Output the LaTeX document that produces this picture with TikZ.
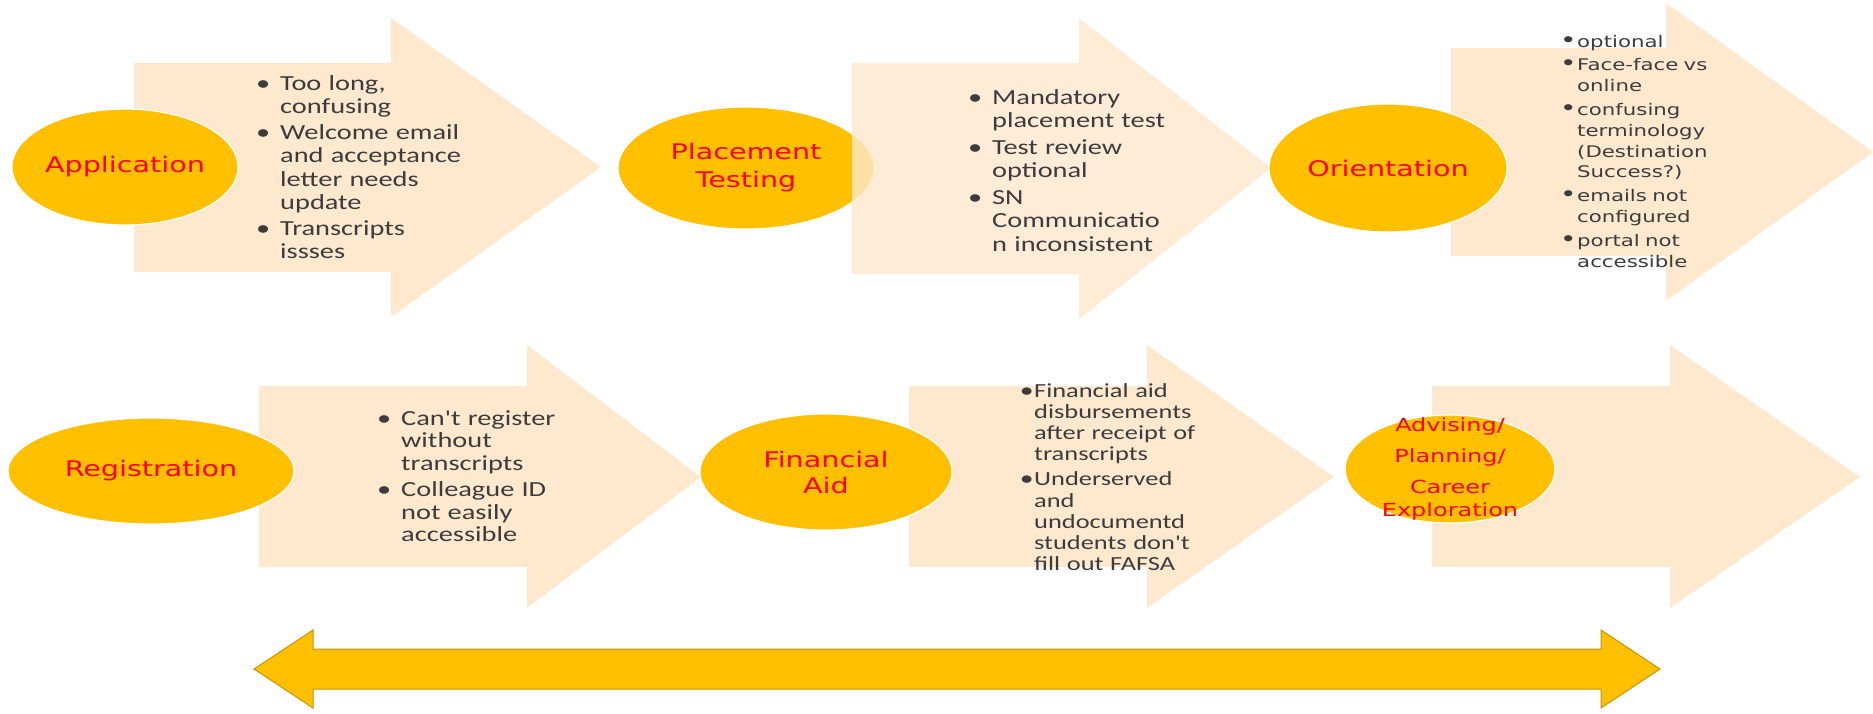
\documentclass[tikz,border=0pt]{standalone}
\usepackage{fontspec}
\setmainfont{Carlito}
\newfontfamily\bulletfont[FakeStretch=1.32]{Carlito}
\newfontfamily\labelfont[FakeStretch=1.33]{DejaVu Sans}
\newfontfamily\widefont[FakeStretch=1.33]{DejaVu Sans}
\usetikzlibrary{shapes.geometric}
\definecolor{peach}{RGB}{254,232,206}
\definecolor{gold}{RGB}{255,192,0}
\definecolor{golddark}{RGB}{196,150,10}
\definecolor{txt}{RGB}{60,60,60}
\definecolor{lbl}{RGB}{255,0,0}
% #1 style, #2 body left, #3 body top, #4 body bottom, #5 head base x, #6 head top, #7 head bottom, #8 tip x, #9 tip y
\newcommand\blockarrow[9]{\fill[#1] (#2,#3) -- (#5,#3) -- (#5,#6) -- (#8,#9) -- (#5,#7) -- (#5,#4) -- (#2,#4) -- cycle;}
\newcommand\bl{\leavevmode\llap{\makebox[24pt][l]{•}}}
\newcommand\bt{\leavevmode\llap{{\fontsize{21}{10}\selectfont•}\kern0.5pt}}
\begin{document}
\begin{tikzpicture}[x=1pt,y=-1pt,
  stagearrow/.style={fill=peach},
  stagearrowt/.style={fill=peach,fill opacity=0.8},
  stage/.style={ellipse,fill=gold,draw=white,line width=1.2pt,inner sep=0pt},
  lab/.style={text=lbl,font=\labelfont\fontsize{21.5}{28}\selectfont,align=center,inner sep=0pt},
  notes/.style={text=txt,font=\bulletfont\fontsize{21.5}{23.5}\selectfont,text width=300pt,align=left,anchor=base west,inner sep=0pt},
  notesw/.style={text=txt,font=\widefont\fontsize{16}{20.8}\selectfont,text width=300pt,align=left,anchor=base west,inner sep=0pt},
  notesf/.style={text=txt,font=\bulletfont\fontsize{20}{21.3}\selectfont,text width=300pt,align=left,anchor=base west,inner sep=0pt},
  bigarrow/.style={fill=gold,draw=golddark,line width=1pt,line join=miter}]
\fill[white] (0,0) rectangle (1873,713);
\useasboundingbox (0,0) rectangle (1873,713);

% row 1
\blockarrow{stagearrow}{134}{63}{272}{391}{18}{317}{601}{167}
\node[stage,minimum width=226pt,minimum height=116pt] (app) at (125,167) {};
\node[lab] (applab) at (app) {Application};
\node[notes] (appnotes) at (280,90) {\bl Too long,\\ confusing\\[2pt]
\bl Welcome email\\ and acceptance\\ letter needs\\ update\\[2pt]
\bl Transcripts\\ issses};

\node[stage,minimum width=256pt,minimum height=122pt] (plc) at (746,168) {};
\blockarrow{stagearrowt}{852}{63}{274}{1079}{18}{319}{1271}{168}
\node[lab] (plclab) at (plc) {Placement\\ Testing};
\node[notes] (plcnotes) at (992,104) {\bl Mandatory\\ placement test\\[3pt]
\bl Test review\\ optional\\[3pt]
\bl SN\\ Communicatio\\ n inconsistent};

\blockarrow{stagearrow}{1451}{48}{256}{1666}{3}{301}{1873}{152}
\node[stage,minimum width=238pt,minimum height=128pt] (ori) at (1388,168) {};
\node[lab] (orilab) at (ori) {Orientation};
\node[notesw] (orinotes) at (1577,47) {\bt optional\\[3pt]
\bt Face-face vs\\ online\\[3pt]
\bt confusing\\ terminology\\ (Destination\\ Success?)\\[3pt]
\bt emails not\\ configured\\[3pt]
\bt portal not\\ accessible};

% row 2
\blockarrow{stagearrow}{259}{386}{567}{527}{345}{608}{701}{477}
\node[stage,minimum width=286pt,minimum height=106pt] (reg) at (151,471) {};
\node[lab] (reglab) at (reg) {Registration};
\node[notes,font=\bulletfont\fontsize{21.5}{22.7}\selectfont] (regnotes) at (401,425) {\bl Can't register\\ without\\ transcripts\\[3.3pt]
\bl Colleague ID\\ not easily\\ accessible};

\blockarrow{stagearrow}{909}{386}{567}{1147}{345}{608}{1334}{477}
\node[stage,minimum width=252pt,minimum height=116pt] (fin) at (826,472) {};
\node[lab,font=\labelfont\fontsize{21.5}{26}\selectfont] (finlab) at (fin) {Financial\\ Aid};
\node[notesf] (finnotes) at (1034,397) {\bt Financial aid\\ disbursements\\ after receipt of\\ transcripts\\[3.5pt]
\bt Underserved\\ and\\ undocumentd\\ students don't\\ fill out FAFSA};

\blockarrow{stagearrow}{1432}{386}{567}{1670}{345}{608}{1860}{477}
\node[stage,minimum width=210pt,minimum height=108pt] (adv) at (1450,469) {};
\node[lab,font=\labelfont\fontsize{18}{23}\selectfont] (advlab) at (adv) {Advising/\\[8pt] Planning/\\[8pt] Career\\ Exploration};

% double arrow
\draw[bigarrow] (254,669) -- (313,630) -- (313,649) -- (1601,649) -- (1601,630)
  -- (1660,669) -- (1601,708) -- (1601,689) -- (313,689) -- (313,708) -- cycle;
\end{tikzpicture}
\end{document}
